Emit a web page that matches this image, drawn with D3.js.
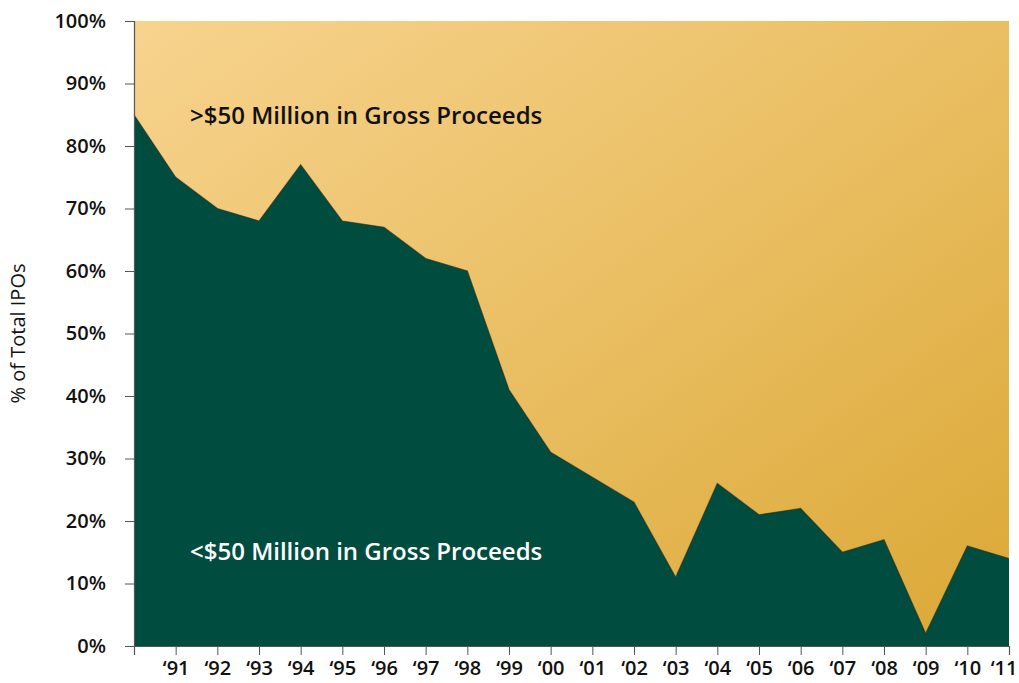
<!DOCTYPE html>
<meta charset="utf-8">
<style>
  body { margin: 0; background: #fff; }
  text { font-family: 'Open Sans', 'Noto Sans', sans-serif; }
  .tick text { font-size: 20px; font-weight: 600; fill: #111; }
  .domain, .tick line { stroke: #555; }
  .label { font-size: 24px; font-weight: 600; }
</style>
<body>
<script src="https://d3js.org/d3.v7.min.js"></script>
<script>
  // share of IPOs under $50M gross proceeds, 1990-2011
  const years = d3.range(1990, 2012);
  const smallShare = [85, 75, 70, 68, 77, 68, 67, 62, 60, 41, 31, 27, 23, 11, 26, 21, 22, 15, 17, 2, 16, 14];
  const yTicks = [0, 10, 20, 30, 40, 50, 60, 70, 80, 90, 100];

  const width = 1019, height = 683,
        margin = {top: 21, right: 10, bottom: 37, left: 134};

  const svg = d3.select("body").append("svg")
      .attr("width", width)
      .attr("height", height);

  const x = d3.scaleLinear()
      .domain([1990, 2011])
      .range([margin.left, width - margin.right]);

  const y = d3.scaleLinear()
      .domain([0, 100])
      .range([height - margin.bottom, margin.top]);

  const defs = svg.append("defs");
  const grad = defs.append("linearGradient")
      .attr("id", "bg")
      .attr("x1", "0%").attr("y1", "0%")
      .attr("x2", "100%").attr("y2", "100%");
  grad.append("stop").attr("offset", "0%").attr("stop-color", "#f7d38e");
  grad.append("stop").attr("offset", "55%").attr("stop-color", "#e8bc5e");
  grad.append("stop").attr("offset", "100%").attr("stop-color", "#dba835");

  // upper area (>$50M) is just the background block
  svg.append("rect")
      .attr("x", x(1990))
      .attr("y", y(100))
      .attr("width", x(2011) - x(1990))
      .attr("height", y(0) - y(100))
      .attr("fill", "url(#bg)");

  const data = years.map((d, i) => ({year: d, v: smallShare[i]}));

  const area = d3.area()
      .x(d => x(d.year))
      .y0(y(0))
      .y1(d => y(d.v));

  svg.append("path")
      .datum(data)
      .attr("fill", "#004d40")
      .attr("d", area);

  svg.append("path")
      .datum(data)
      .attr("fill", "none")
      .attr("stroke", "#1f2a1c")
      .attr("stroke-opacity", 0.6)
      .attr("stroke-width", 1.2)
      .attr("d", d3.line().x(d => x(d.year)).y(d => y(d.v)));

  // axes
  svg.append("g")
      .attr("transform", `translate(${margin.left},0)`)
      .call(d3.axisLeft(y).tickValues(yTicks).tickSize(9).tickPadding(19).tickFormat(d => d + "%"));

  const xAxis = svg.append("g")
      .attr("transform", `translate(0,${y(0)})`)
      .call(d3.axisBottom(x).tickValues(years).tickSize(9).tickPadding(6)
        .tickFormat(d => d === 1990 ? "" : "\u2018" + String(d).slice(2)));

  // last label would run off the right edge
  xAxis.selectAll(".tick text").filter(d => d === 2011)
      .attr("text-anchor", "end")
      .attr("dx", "0.4em");

  svg.selectAll(".domain").attr("stroke-width", 1.2);

  svg.append("text")
      .attr("transform", `translate(25,${(y(0) + y(100)) / 2}) rotate(-90)`)
      .attr("text-anchor", "middle")
      .attr("font-size", 20)
      .attr("fill", "#111")
      .text("% of Total IPOs");

  svg.append("text")
      .attr("class", "label")
      .attr("x", 190)
      .attr("y", 124)
      .attr("fill", "#111")
      .text(">$50 Million in Gross Proceeds");

  svg.append("text")
      .attr("class", "label")
      .attr("x", 190)
      .attr("y", 560)
      .attr("fill", "#fff")
      .text("<$50 Million in Gross Proceeds");
</script>
</body>
